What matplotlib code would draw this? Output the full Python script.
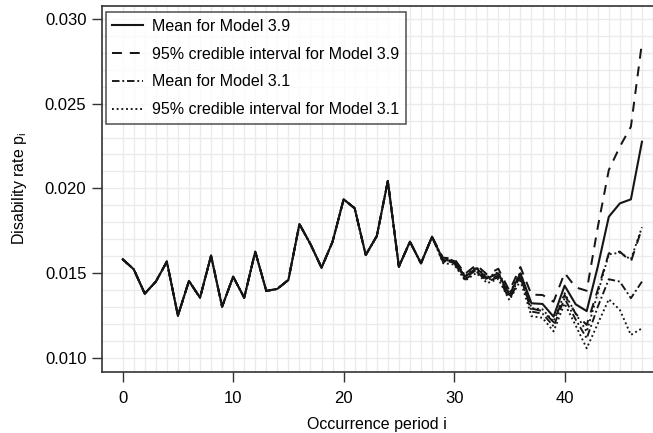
import numpy as np
import matplotlib
matplotlib.use("Agg")
import matplotlib.pyplot as plt

plt.rcParams['font.family'] = ['Liberation Sans', 'DejaVu Sans']

periods = list(range(48))

mean_39 = [0.01581, 0.01522, 0.01378, 0.01449, 0.01567, 0.01248, 0.01453, 0.01354,
           0.01602, 0.01301, 0.01478, 0.01354, 0.01626, 0.01394, 0.01406, 0.01459,
           0.01789, 0.01670, 0.01531, 0.01685, 0.01935, 0.01882, 0.01606, 0.01718,
           0.02043, 0.01537, 0.01685, 0.01557, 0.01714, 0.01577, 0.01571, 0.01478,
           0.01528, 0.01469, 0.01498, 0.01370, 0.01498, 0.01321, 0.01317, 0.01242,
           0.01425, 0.01315, 0.01275, 0.01537, 0.01832, 0.01911, 0.01935, 0.02275]

upper_39_tail = [0.01590, 0.01585, 0.01495, 0.01548, 0.01490, 0.01525, 0.01395,
                 0.01535, 0.01372, 0.01370, 0.01330, 0.01500, 0.01415, 0.01395,
                 0.01770, 0.02108, 0.02246, 0.02364, 0.02860]
lower_39_tail = [0.01565, 0.01558, 0.01462, 0.01510, 0.01450, 0.01475, 0.01345,
                 0.01470, 0.01290, 0.01275, 0.01210, 0.01370, 0.01260, 0.01193,
                 0.01400, 0.01616, 0.01626, 0.01567, 0.01764]
mean_31_tail = [0.01570, 0.01563, 0.01470, 0.01518, 0.01458, 0.01485, 0.01360,
                0.01480, 0.01272, 0.01260, 0.01185, 0.01350, 0.01225, 0.01114,
                0.01300, 0.01463, 0.01449, 0.01351, 0.01449]
upper_31_tail = [0.01582, 0.01576, 0.01485, 0.01535, 0.01475, 0.01505, 0.01380,
                 0.01505, 0.01292, 0.01285, 0.01213, 0.01380, 0.01260, 0.01153,
                 0.01380, 0.01610, 0.01620, 0.01580, 0.01770]
lower_31_tail = [0.01558, 0.01550, 0.01455, 0.01500, 0.01440, 0.01465, 0.01340,
                 0.01455, 0.01245, 0.01235, 0.01155, 0.01320, 0.01190, 0.01055,
                 0.01200, 0.01345, 0.01282, 0.01134, 0.01173]

n_head = 29
upper_39 = mean_39[:n_head] + upper_39_tail
lower_39 = mean_39[:n_head] + lower_39_tail
mean_31 = mean_39[:n_head] + mean_31_tail
upper_31 = mean_39[:n_head] + upper_31_tail
lower_31 = mean_39[:n_head] + lower_31_tail

labels = ["Mean for Model 3.9", "95% credible interval for Model 3.9",
          "Mean for Model 3.1", "95% credible interval for Model 3.1"]

fig = plt.figure(figsize=(6.53, 4.33), dpi=100)
ax = fig.add_axes([0.1557, 0.1416, 1 - 0.1557, 0.987 - 0.1416])

ax.set_xlim(-1.9, 48.0)
ax.set_ylim(0.00917, 0.03079)

ax.set_xticks([0, 10, 20, 30, 40])
ax.set_yticks([0.010, 0.015, 0.020, 0.025, 0.030])
ax.set_yticklabels(["0.010", "0.015", "0.020", "0.025", "0.030"])
ax.set_xticks(np.arange(0, 49, 1), minor=True)
ax.set_yticks(np.arange(0.010, 0.0305, 0.001), minor=True)
ax.grid(True, which='both', color='#ebebeb', lw=1.0, zorder=0)
ax.set_axisbelow(True)
ax.tick_params(which='minor', length=0)
ax.tick_params(axis='both', which='major', labelsize=12, length=7, width=1.0, color='#333333')
ax.tick_params(axis='x', pad=7)
ax.tick_params(axis='y', pad=4)

for s in ['left', 'bottom', 'top']:
    ax.spines[s].set_linewidth(1.2)
    ax.spines[s].set_color('#333333')
ax.spines['right'].set_visible(False)

lw = 1.5
col = '#151515'
l1, = ax.plot(periods, mean_39, color=col, lw=lw, ls='-')
l2, = ax.plot(periods, upper_39, color=col, lw=lw * 0.95, ls=(0, (5, 4)))
ax.plot(periods, lower_39, color=col, lw=lw * 0.95, ls=(0, (5, 4)))
l3, = ax.plot(periods, mean_31, color=col, lw=lw * 0.9, ls=(0, (4, 1.5, 1, 1.5)))
l4, = ax.plot(periods, upper_31, color=col, lw=lw * 0.9, ls=(0, (1, 1.5)))
ax.plot(periods, lower_31, color=col, lw=lw * 0.9, ls=(0, (1, 1.5)))

leg = ax.legend([l1, l2, l3, l4], labels, loc='upper left',
                bbox_to_anchor=(0.0073, 0.982), borderaxespad=0,
                fontsize=11.5, frameon=True, fancybox=False,
                handlelength=1.9, handletextpad=0.6, labelspacing=0.8,
                borderpad=0.42)
leg.get_frame().set_edgecolor('#333333')
leg.get_frame().set_linewidth(1.2)

ax.set_xlabel("Occurrence period i", fontsize=11.5, labelpad=8)
ax.set_ylabel("Disability rate p$_\\mathregular{i}$", fontsize=11.5, labelpad=11)

fig.savefig("out.png", dpi=100)
